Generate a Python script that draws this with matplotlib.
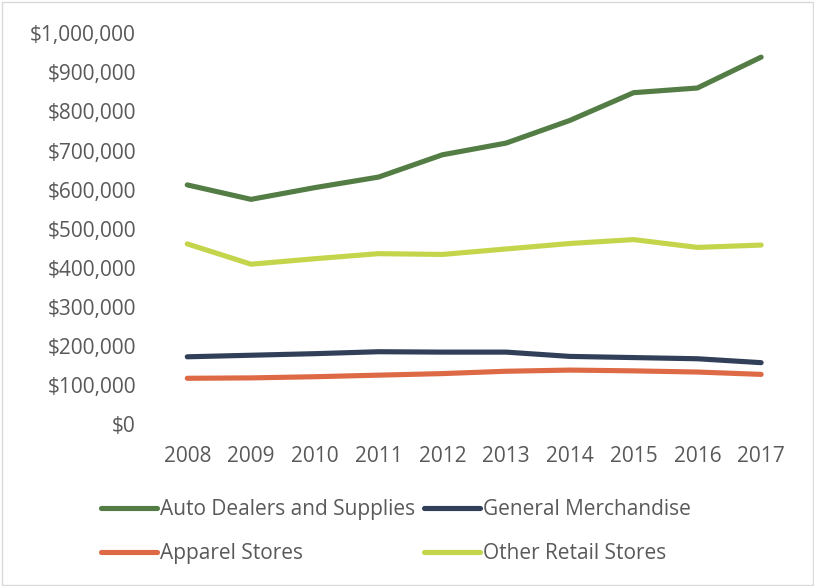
import matplotlib
matplotlib.use("Agg")
import matplotlib.pyplot as plt
from matplotlib.ticker import FuncFormatter
from matplotlib.patches import Rectangle

years = ["2008", "2009", "2010", "2011", "2012", "2013", "2014", "2015", "2016", "2017"]
auto_dealers = [612000, 575000, 605000, 632000, 689000, 719000, 777000, 848000, 860000, 939000]
general_merch = [172000, 176000, 180000, 185000, 184000, 184000, 173000, 170000, 167000, 157000]
apparel = [117000, 118000, 121000, 125000, 129000, 135000, 138000, 136000, 133000, 127000]
other_retail = [461000, 409000, 423000, 436000, 434000, 448000, 462000, 472000, 452000, 458000]

series = [
    ("Auto Dealers and Supplies", auto_dealers, "#537D45"),
    ("Apparel Stores", apparel, "#DE6945"),
    ("General Merchandise", general_merch, "#323F59"),
    ("Other Retail Stores", other_retail, "#C4D54B"),
]

plt.rcParams["font.family"] = ["Open Sans", "DejaVu Sans"]
text_color = "#595959"

fig = plt.figure(figsize=(8.14, 5.86), dpi=100)
ax = fig.add_axes([155.4 / 814, 1 - 424 / 586, (793 - 155.4) / 814, (424 - 33.3) / 586])

x = list(range(len(years)))
for name, vals, col in series:
    ax.plot(x, vals, color=col, lw=3.7, solid_capstyle="round", solid_joinstyle="round", label=name)

ax.set_xlim(-0.5, len(years) - 0.5)
ax.set_ylim(0, 1000000)
ax.set_yticks(range(0, 1000001, 100000))
ax.yaxis.set_major_formatter(FuncFormatter(lambda v, p: f"${v:,.0f}"))
ax.set_xticks(x)
ax.set_xticklabels(years)
for s in ax.spines.values():
    s.set_visible(False)
ax.tick_params(axis="both", length=0, labelsize=15, colors=text_color)
ax.tick_params(axis="y", pad=14)
ax.tick_params(axis="x", pad=16)

fig.legend(
    loc="upper left", bbox_to_anchor=(101 / 814, 1 - 499 / 586),
    ncol=2, frameon=False, fontsize=15, labelcolor=text_color,
    handlelength=2.7, handletextpad=0.15, columnspacing=0.4, labelspacing=1.12,
    borderaxespad=0, borderpad=0,
)

fig.patches.append(Rectangle((1.5 / 814, 1.5 / 586), 811 / 814, 583 / 586, transform=fig.transFigure,
                             fill=False, edgecolor="#D9D9D9", lw=1))

fig.savefig("out.png", dpi=100)
